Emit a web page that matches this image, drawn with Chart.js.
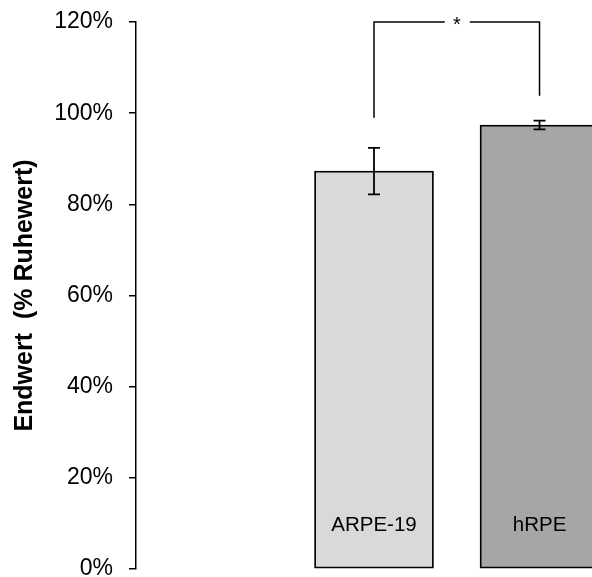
<!DOCTYPE html>
<html>
<head>
<meta charset="utf-8">
<script src="https://cdn.jsdelivr.net/npm/chart.js@4"></script>
<style>
  html, body { margin: 0; padding: 0; background: #fff; }
  #wrap { width: 592px; height: 577px; position: relative; }
</style>
</head>
<body>
<div id="wrap"><canvas id="chart"></canvas></div>
<script>
// ── Data ──────────────────────────────────────────────
const categories = ['ARPE-19', 'hRPE'];
const positions  = [1, 2];
const means      = [87.3, 97.4];
const errors     = [5.1, 0.95];
const barColors  = ['#d9d9d9', '#a6a6a6'];
const yTicks     = [0, 20, 40, 60, 80, 100, 120];

// significance bracket: top level, leg ends for each bar, label
const bracketTop  = 120;
const bracketEnds = [99, 103.8];
const sigLabel    = '*';
const labelLevel  = 9.5;

const FONT = "'Liberation Sans', Arial, sans-serif";

// ── Plugins ───────────────────────────────────────────
const errorBars = {
  id: 'errorBars',
  afterDatasetsDraw(chart) {
    const { ctx, scales: { x, y } } = chart;
    ctx.save();
    ctx.strokeStyle = '#000';
    ctx.lineWidth = 1.8;
    positions.forEach((p, i) => {
      const cx = x.getPixelForValue(p);
      const top = y.getPixelForValue(means[i] + errors[i]);
      const bot = y.getPixelForValue(means[i] - errors[i]);
      ctx.beginPath();
      ctx.moveTo(cx, top); ctx.lineTo(cx, bot);
      ctx.moveTo(cx - 6, top); ctx.lineTo(cx + 6, top);
      ctx.moveTo(cx - 6, bot); ctx.lineTo(cx + 6, bot);
      ctx.stroke();
    });
    ctx.restore();
  }
};

const barLabels = {
  id: 'barLabels',
  afterDatasetsDraw(chart) {
    const { ctx, scales: { x, y } } = chart;
    ctx.save();
    ctx.fillStyle = '#000';
    ctx.font = '20.5px ' + FONT;
    ctx.textAlign = 'center';
    ctx.textBaseline = 'middle';
    positions.forEach((p, i) => {
      ctx.fillText(categories[i], x.getPixelForValue(p), y.getPixelForValue(labelLevel));
    });
    ctx.restore();
  }
};

const sigBracket = {
  id: 'sigBracket',
  afterDraw(chart) {
    const { ctx, scales: { x, y } } = chart;
    const x1 = x.getPixelForValue(positions[0]);
    const x2 = x.getPixelForValue(positions[1]);
    const yt = y.getPixelForValue(bracketTop);
    const mid = (x1 + x2) / 2;
    ctx.save();
    ctx.strokeStyle = '#000';
    ctx.lineWidth = 1.5;
    ctx.beginPath();
    ctx.moveTo(x1, y.getPixelForValue(bracketEnds[0]));
    ctx.lineTo(x1, yt);
    ctx.lineTo(mid - 12, yt);
    ctx.moveTo(mid + 13, yt);
    ctx.lineTo(x2, yt);
    ctx.lineTo(x2, y.getPixelForValue(bracketEnds[1]));
    ctx.stroke();
    ctx.fillStyle = '#000';
    ctx.font = '20px ' + FONT;
    ctx.textAlign = 'center';
    ctx.textBaseline = 'middle';
    ctx.fillText(sigLabel, mid, yt + 3);
    ctx.restore();
  }
};

// ── Chart ─────────────────────────────────────────────
new Chart(document.getElementById('chart').getContext('2d'), {
  type: 'bar',
  data: {
    datasets: [{
      data: positions.map((p, i) => ({ x: p, y: means[i] })),
      backgroundColor: barColors,
      borderColor: '#000',
      borderWidth: 1.8,
      borderSkipped: false,
      barThickness: 119
    }]
  },
  options: {
    responsive: true,
    maintainAspectRatio: false,
    animation: false,
    layout: { padding: { top: 22, bottom: 8, left: 0, right: 0 } },
    plugins: { legend: { display: false }, tooltip: { enabled: false } },
    scales: {
      x: {
        type: 'linear',
        offset: false,
        min: -0.438,
        max: 2.317,
        display: false
      },
      y: {
        min: 0,
        max: 120,
        afterBuildTicks: s => { s.ticks = yTicks.map(v => ({ value: v })); },
        afterFit: s => { s.width = 136; s.paddingTop = 0; s.paddingBottom = 0; },
        border: { display: true, color: '#000', width: 1.5 },
        grid: { drawOnChartArea: false, drawTicks: true, tickLength: 7, color: '#000', lineWidth: 1.5 },
        ticks: {
          color: '#000',
          padding: 16,
          font: { family: FONT, size: 23 },
          callback: v => v + '%'
        },
        title: {
          display: true,
          text: 'Endwert  (% Ruhewert)',
          color: '#000',
          font: { family: FONT, size: 25, weight: 'bold' },
          padding: { top: 10, bottom: 0 }
        }
      }
    }
  },
  plugins: [errorBars, barLabels, sigBracket]
});
</script>
</body>
</html>
